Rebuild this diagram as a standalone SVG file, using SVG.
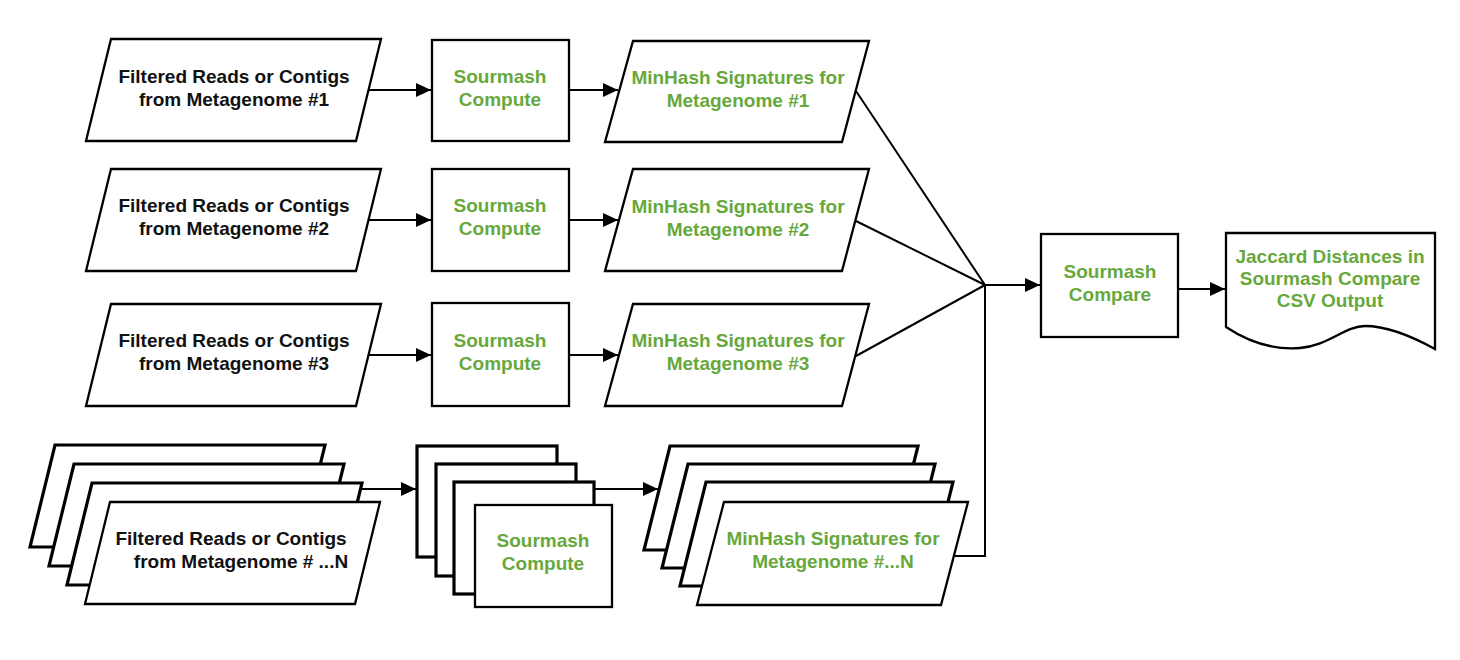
<svg xmlns="http://www.w3.org/2000/svg" width="1460" height="660" viewBox="0 0 1460 660">
<defs>
<marker id="ah" markerUnits="userSpaceOnUse" markerWidth="16" markerHeight="14" refX="15" refY="7" orient="auto">
<path d="M0,0 L15,7 L0,14 Z" fill="#000"/>
</marker>
<style>
.sh{fill:#fff;stroke:#000;stroke-width:2.3;stroke-linejoin:miter}
.st{fill:#fff;stroke:#000;stroke-width:3.2;stroke-linejoin:miter}
.c{fill:none;stroke:#000;stroke-width:2}
.a{marker-end:url(#ah)}
text{font-family:"Liberation Sans",Arial,Helvetica,sans-serif;font-weight:bold;font-size:19px;text-anchor:middle}
.k{fill:#111}
.g{fill:#67a83c}
</style>
</defs>
<rect width="1460" height="660" fill="#fff"/>

<g id="connectors">
<path class="c a" d="M369,90 H431"/>
<path class="c a" d="M369,220 H431"/>
<path class="c a" d="M369,355 H431"/>
<path class="c a" d="M569,90 H618"/>
<path class="c a" d="M569,220 H618"/>
<path class="c a" d="M569,355 H618"/>
<path class="c" d="M856,91 L985,285"/>
<path class="c" d="M856,221 L985,285"/>
<path class="c" d="M856,356 L985,285"/>
<path class="c" d="M954,556 H985 V285"/>
<path class="c a" d="M985,285 H1040"/>
<path class="c a" d="M1178,289 H1225"/>
<path class="c a" d="M360,489 H416"/>
<path class="c a" d="M594,489 H658"/>
</g>

<g id="input1">
<polygon class="sh" points="111,39 381,39 356,141 86,141"/>
<text class="k" x="234" y="83">Filtered Reads or Contigs</text>
<text class="k" x="234" y="106">from Metagenome #1</text>
</g>
<g id="input2">
<polygon class="sh" points="111,169 381,169 356,271 86,271"/>
<text class="k" x="234" y="212">Filtered Reads or Contigs</text>
<text class="k" x="234" y="235">from Metagenome #2</text>
</g>
<g id="input3">
<polygon class="sh" points="111,304 381,304 356,406 86,406"/>
<text class="k" x="234" y="347">Filtered Reads or Contigs</text>
<text class="k" x="234" y="370">from Metagenome #3</text>
</g>
<g id="inputN">
<polygon class="st" points="55,445 325,445 300,547 30,547"/>
<polygon class="st" points="74,464 344,464 319,566 49,566"/>
<polygon class="st" points="92,483 362,483 337,585 67,585"/>
<polygon class="sh" points="110,502 380,502 355,604 85,604"/>
<text class="k" x="231" y="545">Filtered Reads or Contigs</text>
<text class="k" x="241" y="568">from Metagenome # ...N</text>
</g>

<g id="compute1">
<rect class="sh" x="432" y="40" width="137" height="101"/>
<text class="g" x="500" y="83">Sourmash</text>
<text class="g" x="500" y="106">Compute</text>
</g>
<g id="compute2">
<rect class="sh" x="432" y="169" width="137" height="102"/>
<text class="g" x="500" y="212">Sourmash</text>
<text class="g" x="500" y="235">Compute</text>
</g>
<g id="compute3">
<rect class="sh" x="432" y="303" width="137" height="103"/>
<text class="g" x="500" y="347">Sourmash</text>
<text class="g" x="500" y="370">Compute</text>
</g>
<g id="computeN">
<rect class="st" x="417" y="446" width="140" height="111"/>
<rect class="st" x="436" y="464" width="140" height="112"/>
<rect class="st" x="454" y="482" width="140" height="112"/>
<rect class="sh" x="475" y="505" width="137" height="102"/>
<text class="g" x="543" y="547">Sourmash</text>
<text class="g" x="543" y="570">Compute</text>
</g>

<g id="minhash1">
<polygon class="sh" points="633,41 869,41 842,142 605,142"/>
<text class="g" x="738" y="84">MinHash Signatures for</text>
<text class="g" x="738" y="107">Metagenome #1</text>
</g>
<g id="minhash2">
<polygon class="sh" points="633,169 869,169 842,271 605,271"/>
<text class="g" x="738" y="213">MinHash Signatures for</text>
<text class="g" x="738" y="236">Metagenome #2</text>
</g>
<g id="minhash3">
<polygon class="sh" points="633,304 869,304 842,406 605,406"/>
<text class="g" x="738" y="347">MinHash Signatures for</text>
<text class="g" x="738" y="370">Metagenome #3</text>
</g>
<g id="minhashN">
<polygon class="st" points="670,446 918,446 892,550 644,550"/>
<polygon class="st" points="688,464 935,464 909,568 662,568"/>
<polygon class="st" points="706,482 953,482 927,586 680,586"/>
<polygon class="sh" points="724,502 968,502 941,605 697,605"/>
<text class="g" x="833" y="545">MinHash Signatures for</text>
<text class="g" x="833" y="568">Metagenome #...N</text>
</g>

<g id="compare">
<rect class="sh" x="1041" y="234" width="137" height="103"/>
<text class="g" x="1110" y="278">Sourmash</text>
<text class="g" x="1110" y="301">Compare</text>
</g>

<g id="output">
<path class="sh" d="M1226,233 L1435,233 L1435,349 C1415,338 1390,326 1365,326 C1345,326 1328,346 1300,348 C1275,350 1250,343 1226,327 Z"/>
<text class="g" x="1330" y="263">Jaccard Distances in</text>
<text class="g" x="1330" y="285">Sourmash Compare</text>
<text class="g" x="1330" y="307">CSV Output</text>
</g>
</svg>
